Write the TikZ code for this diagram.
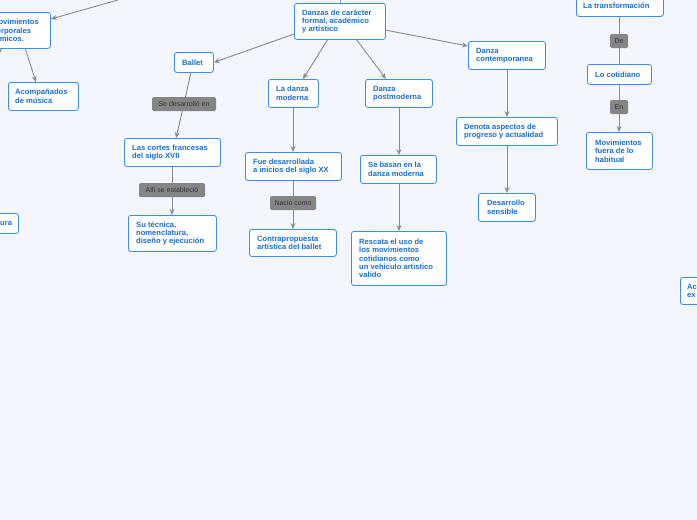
\documentclass[tikz,border=0pt]{standalone}
\usepackage{fontspec}
\setmainfont{Liberation Sans}
\usetikzlibrary{arrows.meta}
\begin{document}
\begin{tikzpicture}[x=1pt,y=-1pt,
 box/.style={draw=boxc,fill=white,rounded corners=2.5pt,line width=0.8pt,inner sep=0pt,anchor=north west},
 btxt/.style={font=\bfseries\fontsize{7.6}{8.4}\selectfont,text=txtc,align=left,anchor=west,inner sep=0pt},
 lab/.style={fill=labc,rounded corners=1.5pt,font=\fontsize{7}{8}\selectfont,text=labt,inner sep=0pt,minimum height=14pt},
 arr/.style={draw=arrc,line width=0.9pt,-{Stealth[length=6pt,width=5pt]}},
 ln/.style={draw=arrc,line width=0.9pt}]
\definecolor{boxc}{HTML}{3D8EE8}\definecolor{txtc}{HTML}{1A6FD1}
\definecolor{labc}{HTML}{858585}\definecolor{labt}{HTML}{333333}
\definecolor{arrc}{HTML}{8A8A8A}\definecolor{bgc}{HTML}{F3F6FE}
\fill[bgc] (0,0) rectangle (697,520);
\useasboundingbox (0,0) rectangle (697,520);
\newcommand\bx[6]{\node[box,minimum width=#3,minimum height=#4] (#1) at #2 {};\node[btxt] at ([xshift=#5]#1.west) {#6};}
\bx{mov}{(-40,12)}{90}{36}{32}{Movimientos\\corporales\\rítmicos.}
\bx{aco}{(8,82)}{70}{28}{7}{Acompañados\\de música}
\bx{ura}{(-40,213)}{58}{20}{40}{ura}
\bx{acx}{(680,277)}{40}{27}{7}{Ac\\ex}
\bx{dan}{(294,3)}{91}{36}{8}{Danzas de carácter\\formal, académico\\y artístico}
\bx{bal}{(174,52)}{39}{20}{8}{Ballet}
\bx{mod}{(268,79)}{50}{28}{8}{La danza\\moderna}
\bx{pos}{(365,79)}{67}{28}{8}{Danza\\postmoderna}
\bx{con}{(468,41)}{77}{28}{8}{Danza\\contemporanea}
\bx{cor}{(124,138)}{96}{28}{8}{Las cortes francesas\\del siglo XVII}
\bx{fue}{(245,152)}{96}{28}{8}{Fue desarrollada\\a inicios del siglo XX}
\bx{bas}{(360,155)}{76}{28}{8}{Se basan en la\\danza moderna}
\bx{den}{(456,117)}{101}{28}{8}{Denota aspectos de\\progreso y actualidad}
\bx{tec}{(128,215)}{88}{36}{8}{Su técnica,\\nomenclatura,\\diseño y ejecución}
\bx{ctr}{(249,229)}{87}{27}{8}{Contrapropuesta\\artística del ballet}
\bx{res}{(351,231)}{95}{54}{8}{Rescata el uso de\\los movimientos\\cotidianos como\\un vehiculo artistico\\valido}
\bx{des}{(478,193)}{57}{28}{9}{Desarrollo\\sensible}
\bx{tra}{(576,-5)}{87}{21}{7}{La transformación}
\bx{cot}{(587,64)}{64}{20}{8}{Lo cotidiano}
\bx{fue2}{(586,132)}{66}{37}{9}{Movimientos\\fuera de lo\\habitual}
\coordinate (top1) at (118,0);
\coordinate (top2) at (340,0);
\draw[arr] (top1) -- (mov.east |- 0,19);
\draw[ln] (dan.north -| top2) -- (top2);
\draw[arr] (25,48) -- (36,82);
\draw[ln] (2,48) -- (0,52);
\draw[arr] (294,34) -- (bal.east);
\draw[arr] (328,39) -- (303,79);
\draw[arr] (356,39) -- (386,79);
\draw[arr] (385,30) -- (468,46);
\node[lab,minimum width=64pt] (l1) at (184,104) {Se desarrolló en};
\draw[ln] (191,72) -- (l1);
\draw[arr] (l1) -- (176,138);
\node[lab,minimum width=66pt] (l2) at (172,190) {Allí se estableció};
\draw[ln] (cor.south -| l2) -- (l2); \draw[arr] (l2) -- (tec.north -| l2);
\draw[arr] (mod.south -| 293,0) -- (fue.north -| 293,0);
\node[lab,minimum width=46pt] (l3) at (293,203) {Nacio como};
\draw[ln] (fue.south -| l3) -- (l3); \draw[arr] (l3) -- (ctr.north -| l3);
\draw[arr] (pos.south -| 399,0) -- (bas.north -| 399,0);
\draw[arr] (bas.south -| 399,0) -- (res.north -| 399,0);
\draw[arr] (con.south -| 507,0) -- (den.north -| 507,0);
\draw[arr] (den.south -| 507,0) -- (des.north -| 507,0);
\node[lab,minimum width=18pt] (l4) at (619,41) {De};
\draw[ln] (tra.south -| l4) -- (l4); \draw[ln] (l4) -- (cot.north -| l4);
\node[lab,minimum width=18pt] (l5) at (619,107) {En};
\draw[ln] (cot.south -| l5) -- (l5); \draw[arr] (l5) -- (fue2.north -| l5);
\end{tikzpicture}
\end{document}
